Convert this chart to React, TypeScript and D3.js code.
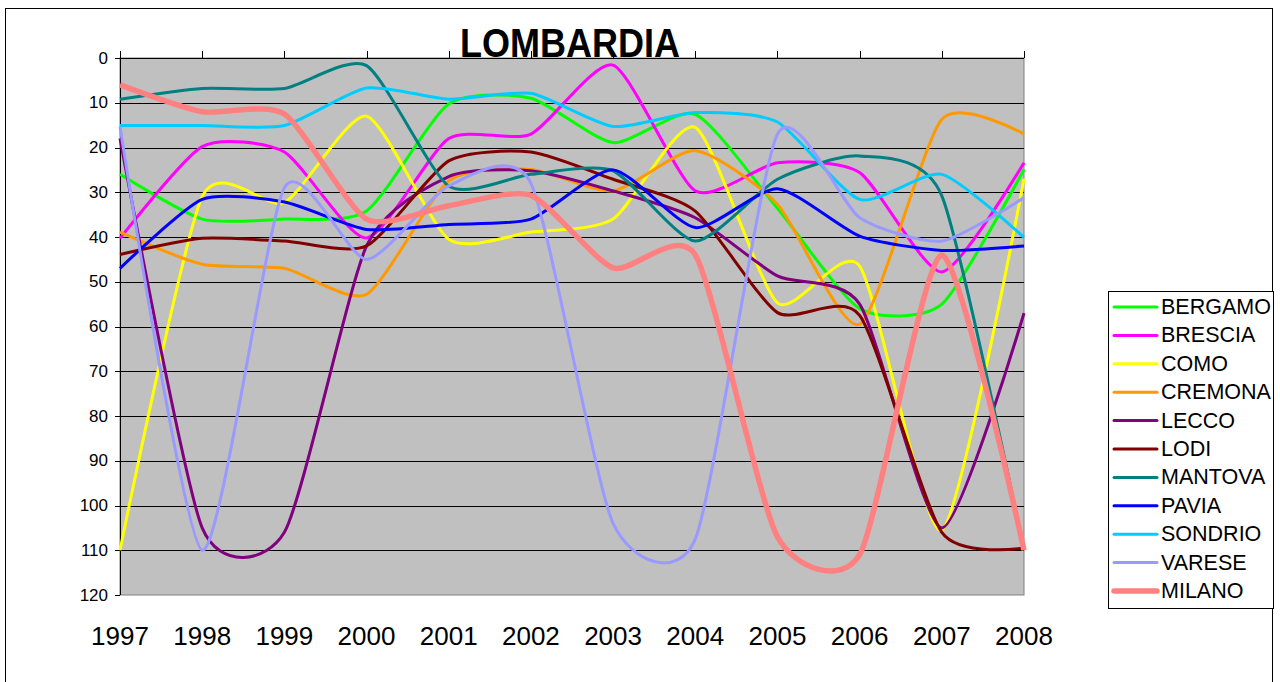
import React from "react";
import * as d3 from "d3";

// years on the category axis
const years = [1997, 1998, 1999, 2000, 2001, 2002, 2003, 2004, 2005, 2006, 2007, 2008];
const yTicks = [0, 10, 20, 30, 40, 50, 60, 70, 80, 90, 100, 110, 120];

// ranking per provincia (lower = better, axis reversed)
const bergamo = [26, 36, 36, 34.2, 10.3, 9, 18.9, 12.6, 33.6, 56, 55, 24.9];
const brescia = [40.3, 19.8, 21, 40.2, 18, 17, 1.6, 29.7, 23.4, 25.6, 47.8, 23.4];
const como = [110, 31, 32.3, 13, 40.5, 38.9, 36, 15.5, 54.7, 46.5, 105.5, 27];
const cremona = [38.9, 46.1, 47, 52.8, 27.5, 24.9, 29.7, 20.7, 32.7, 59.5, 13.7, 17];
const lecco = [18, 105, 106, 42, 26.5, 25.2, 29.7, 35.7, 48.7, 55, 105, 57];
const lodi = [43.9, 40.3, 40.9, 42, 23, 21, 27.1, 34.2, 56.9, 57.5, 106, 109.5];
const mantova = [9.2, 6.8, 6.8, 1.7, 28.6, 26, 25.2, 40.9, 27.1, 21.9, 30.8, 110];
const pavia = [47, 31.6, 32.2, 38.3, 37.2, 36, 25, 37.9, 29.2, 39.8, 43, 42];
const sondrio = [15.1, 15.1, 15.1, 6.7, 9.2, 7.9, 15.3, 12.2, 14.3, 31.6, 26, 40.1];
const varese = [15.3, 110, 29, 45, 28.6, 28, 104, 107.5, 17, 35.7, 40.9, 31.2];
const milano = [6, 12, 12.5, 36, 33, 30.7, 46.9, 44, 107, 111, 44, 110];

const seriesNames = ["BERGAMO", "BRESCIA", "COMO", "CREMONA", "LECCO", "LODI", "MANTOVA", "PAVIA", "SONDRIO", "VARESE", "MILANO"];
const seriesValues = [bergamo, brescia, como, cremona, lecco, lodi, mantova, pavia, sondrio, varese, milano];
const seriesColors = ["#00FF00", "#FF00FF", "#FFFF00", "#FF9900", "#800080", "#800000", "#008080", "#0000FF", "#00CCFF", "#9999FF", "#FF8080"];

export default function App() {
  const left = 120, right = 1024, top = 58, bottom = 595;
  const x = d3.scaleLinear().domain([1997, 2008]).range([left, right]);
  const y = d3.scaleLinear().domain([0, 120]).range([top, bottom]);

  const line = d3
    .line<number>()
    .x((d, i) => x(years[i]))
    .y((d) => y(d))
    .curve(d3.curveCardinal.tension(0.35));

  const font = "'Liberation Sans', Arial, sans-serif";

  return (
    <svg width={1280} height={682} style={{ position: "absolute", left: 0, top: 0, background: "#fff" }} fontFamily={font}>
      <rect x={5.5} y={8.5} width={1267} height={700} fill="none" stroke="#000" />

      <text x={570} y={57} textAnchor="middle" fontSize={40} fontWeight="bold" textLength={220} lengthAdjust="spacingAndGlyphs">
        LOMBARDIA
      </text>

      {/* plot area */}
      <rect x={left} y={top} width={right - left} height={bottom - top} fill="#C0C0C0" stroke="#808080" />
      {yTicks.slice(1, -1).map((t) => (
        <line key={t} x1={left} x2={right} y1={Math.round(y(t)) + 0.5} y2={Math.round(y(t)) + 0.5} stroke="#000" />
      ))}
      <line x1={left + 0.5} x2={left + 0.5} y1={top} y2={bottom} stroke="#000" />
      <line x1={left} x2={right} y1={top + 0.5} y2={top + 0.5} stroke="#000" />
      {yTicks.map((t) => (
        <g key={t}>
          <line x1={left - 5} x2={left} y1={Math.round(y(t)) + 0.5} y2={Math.round(y(t)) + 0.5} stroke="#000" />
          <text x={108} y={y(t)} textAnchor="end" dominantBaseline="central" fontSize={17}>
            {t}
          </text>
        </g>
      ))}
      {years.map((yr) => (
        <g key={yr}>
          <line x1={Math.round(x(yr)) + 0.5} x2={Math.round(x(yr)) + 0.5} y1={top - 7} y2={top} stroke="#000" />
          <text x={x(yr)} y={645} textAnchor="middle" fontSize={26}>
            {yr}
          </text>
        </g>
      ))}

      {seriesValues.map((vals, i) => (
        <path
          key={seriesNames[i]}
          d={line(vals) || ""}
          fill="none"
          stroke={seriesColors[i]}
          strokeWidth={seriesNames[i] === "MILANO" ? 5.5 : 3}
          strokeLinejoin="round"
        />
      ))}

      {/* legend */}
      <rect x={1108.5} y={291.5} width={165} height={317} fill="#fff" stroke="#000" />
      {seriesNames.map((name, i) => {
        const ly = 307 + i * 28.4;
        return (
          <g key={name}>
            <line x1={1114} x2={1157} y1={ly} y2={ly} stroke={seriesColors[i]} strokeWidth={name === "MILANO" ? 5.5 : 3} strokeLinecap="round" />
            <text x={1161} y={ly} dominantBaseline="central" fontSize={21.5}>
              {name}
            </text>
          </g>
        );
      })}
    </svg>
  );
}
